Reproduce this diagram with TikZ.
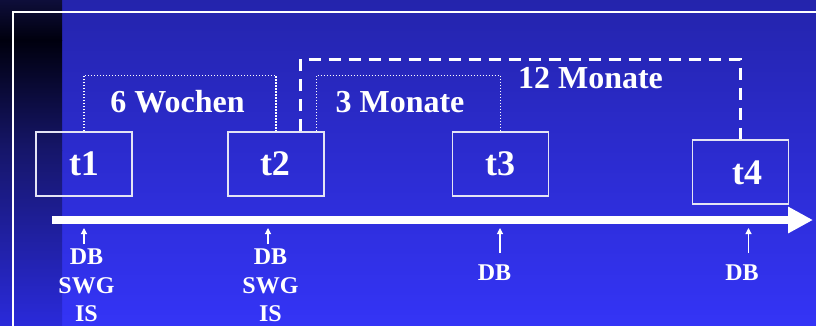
\documentclass[tikz,border=0pt]{standalone}
\usepackage{fontspec}
\setmainfont{Liberation Serif}
\usetikzlibrary{arrows.meta,calc}
\definecolor{bgtop}{HTML}{2424AC}
\definecolor{bgbot}{HTML}{3434F6}
\definecolor{stripA}{HTML}{0E0E3A}
\definecolor{stripB}{HTML}{00000E}
\definecolor{stripC}{HTML}{16166A}
\definecolor{stripD}{HTML}{2A2ADA}
\definecolor{boxline}{HTML}{E4E4F4}
\begin{document}
\begin{tikzpicture}[x=1pt,y=-1pt,
  tbox/.style={draw=boxline, line width=1.2pt, minimum width=96, minimum height=64, inner sep=0},
  tlabel/.style={text=white, inner sep=0, anchor=base, font=\bfseries\fontsize{36}{40}\selectfont},
  span/.style={text=white, inner sep=0, anchor=base, font=\bfseries\fontsize{32}{36}\selectfont},
  meas/.style={text=white, inner sep=0, anchor=base, font=\bfseries\fontsize{24}{28}\selectfont},
  dotline/.style={white, line width=1.3pt, dash pattern=on 1.4pt off 1.6pt},
  dashline/.style={white, line width=3pt, dash pattern=on 12pt off 8pt},
  tick/.style={white, line width=1.1pt, -{Triangle[length=6pt,width=6pt]}}
]
\useasboundingbox (0,0) rectangle (816,325);
\clip (0,0) rectangle (816,325);
% background
\fill[top color=bgtop, bottom color=bgbot] (0,0) rectangle (816,325);
\fill[top color=stripA, bottom color=stripB] (0,0) rectangle (62,40);
\fill[top color=stripB, bottom color=stripC] (0,40) rectangle (62,150);
\fill[top color=stripC, bottom color=stripD] (0,150) rectangle (62,325);
% frame
\draw[white, line width=2.5pt] (13,340) -- (13,12) -- (840,12);
% boxes
\node[tbox] (b1) at (84,164) {};
\node[tbox] (b2) at (276,164) {};
\node[tbox] (b3) at (500.5,164) {};
\node[tbox] (b4) at (740.5,172) {};
\node[tlabel] (l1) at (84,175) {t1};
\node[tlabel] (l2) at (275,175) {t2};
\node[tlabel] (l3) at (500,175) {t3};
\node[tlabel] (l4) at (747,184) {t4};
% spans
\draw[dotline] (b1.north) -- ++(0,-56) -| (b2.north);
\draw[dotline] ($(b2.north east)+(-8,0)$) -- ++(0,-56) -| (b3.north);
\draw[dashline] ($(b2.north east)+(-24,0)$) -- ++(0,-72) -| (b4.north);
\node[span] (w6) at (177.5,112) {6 Wochen};
\node[span] (m3) at (400,112) {3 Monate};
\node[span] (m12) at (590.5,88) {12 Monate};
% time axis
\coordinate (a0) at (52,220);
\coordinate (a1) at (813,220);
\draw[white, line width=8pt, -{Triangle[length=25pt,width=25pt]}] (a0) -- (a1);
% measurements
\node[meas] (d1) at (86.5,264) {DB};
\node[meas] (s1) at (86.5,293) {SWG};
\node[meas] (i1) at (86.5,321.5) {IS};
\node[meas] (d2) at (270.5,264) {DB};
\node[meas] (s2) at (270.5,293) {SWG};
\node[meas] (i2) at (270.5,321.5) {IS};
\node[meas] (d3) at (494.5,280) {DB};
\node[meas] (d4) at (742,280) {DB};
\coordinate (k1) at (84,228); \coordinate (k1b) at (84,244);
\coordinate (k2) at (268,228); \coordinate (k2b) at (268,244);
\coordinate (k3) at (500,228); \coordinate (k3b) at (500,253);
\coordinate (k4) at (748.5,228); \coordinate (k4b) at (748.5,253);
\draw[tick] (k1b) -- (k1);
\draw[tick] (k2b) -- (k2);
\draw[tick] (k3b) -- (k3);
\draw[tick] (k4b) -- (k4);
\end{tikzpicture}
\end{document}
